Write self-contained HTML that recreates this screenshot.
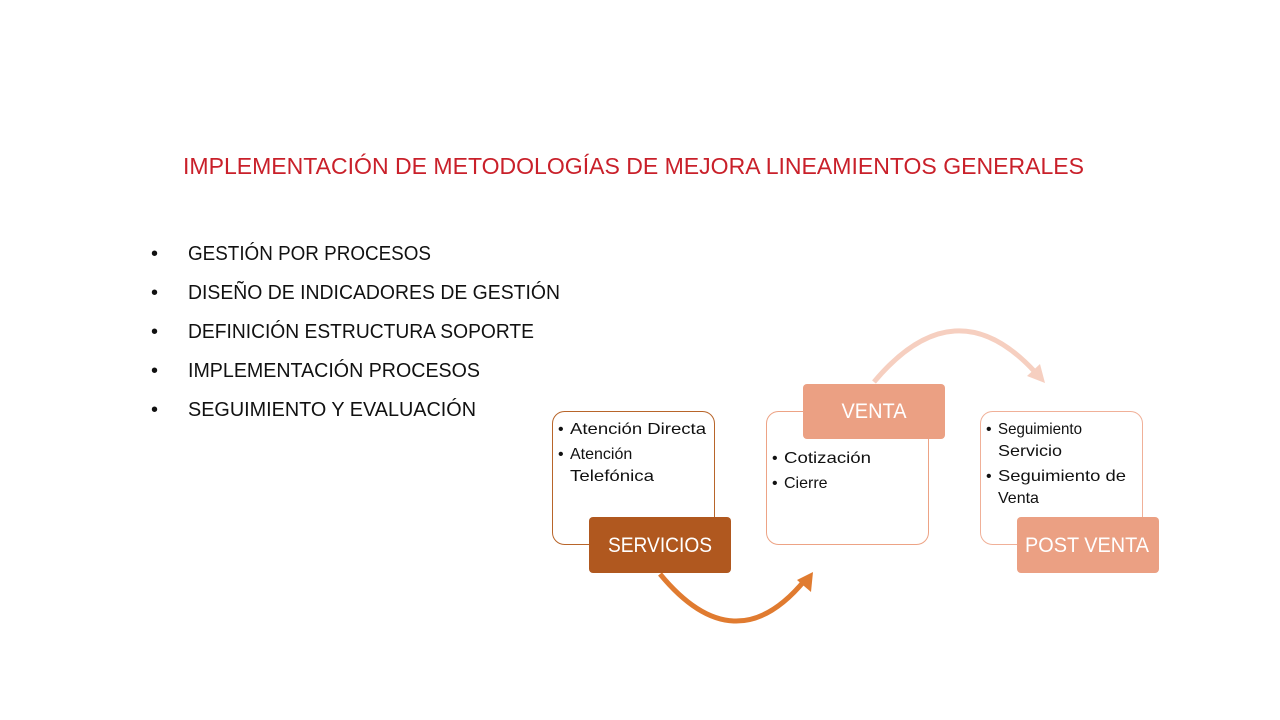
<!DOCTYPE html>
<html><head><meta charset="utf-8"><style>body{margin:0;background:#fff}svg{display:block}</style></head><body>
<svg width="1280" height="720" xmlns="http://www.w3.org/2000/svg" font-family="Liberation Sans, sans-serif">
<rect width="1280" height="720" fill="#fff"/>
<text x="183" y="174" font-size="23" fill="#c9202a" textLength="901" lengthAdjust="spacingAndGlyphs">IMPLEMENTACIÓN DE METODOLOGÍAS DE MEJORA LINEAMIENTOS GENERALES</text>
<g font-size="20" fill="#111">
<text x="151" y="260">•</text><text x="188" y="260" textLength="243" lengthAdjust="spacingAndGlyphs">GESTIÓN POR PROCESOS</text>
<text x="151" y="299">•</text><text x="188" y="299" textLength="372" lengthAdjust="spacingAndGlyphs">DISEÑO DE INDICADORES DE GESTIÓN</text>
<text x="151" y="338">•</text><text x="188" y="338" textLength="346" lengthAdjust="spacingAndGlyphs">DEFINICIÓN ESTRUCTURA SOPORTE</text>
<text x="151" y="377">•</text><text x="188" y="377" textLength="292" lengthAdjust="spacingAndGlyphs">IMPLEMENTACIÓN PROCESOS</text>
<text x="151" y="416">•</text><text x="188" y="416" textLength="288" lengthAdjust="spacingAndGlyphs">SEGUIMIENTO Y EVALUACIÓN</text>
</g>
<!-- arrows -->
<path d="M660 574 Q735 665 805 580" fill="none" stroke="#e07b30" stroke-width="5"/>
<polygon points="813,572 811,592 797,580" fill="#e07b30"/>
<path d="M874 382 Q955 285 1035 372" fill="none" stroke="#f6cfc0" stroke-width="5"/>
<polygon points="1045,383 1027,376 1040,364" fill="#f6cfc0"/>
<!-- boxes -->
<rect x="552.5" y="411.5" width="162" height="133" rx="12" fill="#fff" stroke="#b8652a"/>
<rect x="766.5" y="411.5" width="162" height="133" rx="12" fill="#fff" stroke="#eda385"/>
<rect x="980.5" y="411.5" width="162" height="133" rx="12" fill="#fff" stroke="#f0b098"/>
<rect x="589" y="517" width="142" height="56" rx="4" fill="#b0581f"/>
<rect x="803" y="384" width="142" height="55" rx="4" fill="#eba083"/>
<rect x="1017" y="517" width="142" height="56" rx="4" fill="#eba083"/>
<g font-size="21" fill="#fff" text-anchor="middle">
<text x="660" y="552" textLength="104" lengthAdjust="spacingAndGlyphs">SERVICIOS</text>
<text x="874" y="418" textLength="65" lengthAdjust="spacingAndGlyphs">VENTA</text>
<text x="1087" y="552" textLength="124" lengthAdjust="spacingAndGlyphs">POST VENTA</text>
</g>
<g font-size="16" fill="#111">
<text x="558" y="434">•</text><text x="570" y="434" textLength="136" lengthAdjust="spacingAndGlyphs">Atención Directa</text>
<text x="558" y="459">•</text><text x="570" y="459">Atención</text>
<text x="570" y="481" textLength="84" lengthAdjust="spacingAndGlyphs">Telefónica</text>
<text x="772" y="463">•</text><text x="784" y="463" textLength="87" lengthAdjust="spacingAndGlyphs">Cotización</text>
<text x="772" y="488">•</text><text x="784" y="488">Cierre</text>
<text x="986" y="434">•</text><text x="998" y="434" textLength="84" lengthAdjust="spacingAndGlyphs">Seguimiento</text>
<text x="998" y="456" textLength="64" lengthAdjust="spacingAndGlyphs">Servicio</text>
<text x="986" y="481">•</text><text x="998" y="481" textLength="128" lengthAdjust="spacingAndGlyphs">Seguimiento de</text>
<text x="998" y="503">Venta</text>
</g>
</svg>
</body></html>
